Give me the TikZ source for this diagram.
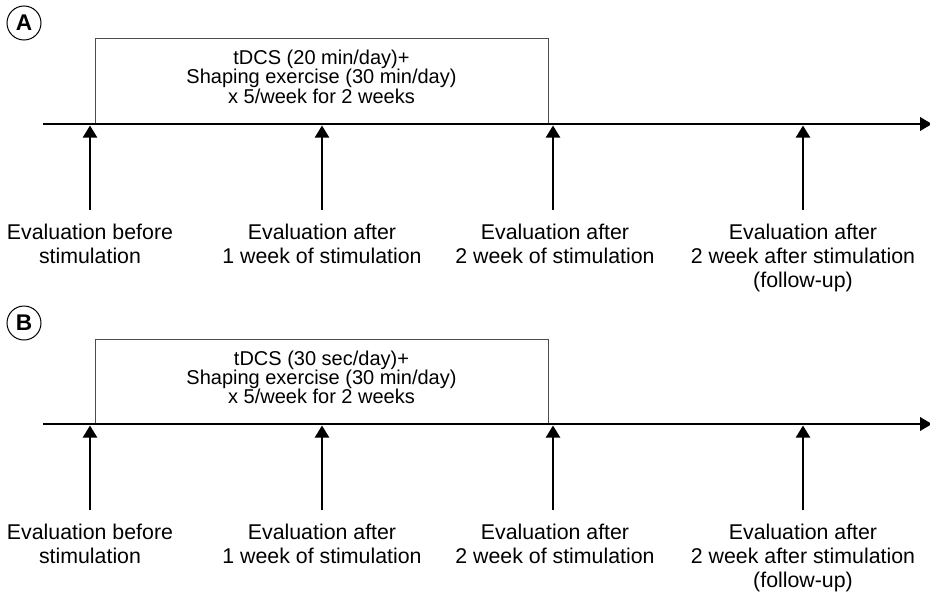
\documentclass[tikz,border=0pt]{standalone}
\usepackage{fontspec}
\setmainfont{Liberation Sans}
\usetikzlibrary{arrows.meta}
\begin{document}
\begin{tikzpicture}[x=0.75pt,y=-0.75pt,
  panellabel/.style={draw,circle,line width=0.75pt,minimum size=25.5pt,inner sep=0pt,
    font=\bfseries\fontsize{17pt}{17pt}\selectfont},
  dosebox/.style={draw=black!70,line width=0.75pt,minimum width=339.75pt,minimum height=63.75pt,inner sep=0pt},
  dosetext/.style={align=center,inner sep=0pt,font=\fontsize{15pt}{14.25pt}\selectfont},
  evlabel/.style={align=center,inner sep=0pt,font=\fontsize{16pt}{18pt}\selectfont},
  timeline/.style={line width=2pt,-{Triangle[width=10pt,length=9pt]}},
  evarrow/.style={line width=1.6pt,-{Triangle[width=10.5pt,length=9pt]}}
]
\useasboundingbox (0,0) rectangle (930,592);
\foreach \p/\dy/\lab/\dose in {a/0/A/20 min, b/300/B/30 sec}{
  \node[panellabel] (\p-lab) at (24,{23+\dy}) {\lab};
  \node[dosebox] (\p-box) at (321.5,{81.5+\dy}) {};
  \node[dosetext,anchor=base] (\p-txt) at (321.5,{103+\dy})
    {tDCS (\dose/day)+\\Shaping exercise (30 min/day)\\x 5/week for 2 weeks};
  \coordinate (\p-s) at (43,{124+\dy});
  \coordinate (\p-e) at (932,{124+\dy});
  \draw[timeline] (\p-s) -- (\p-e);
  \foreach \i/\x/\lx/\ly/\txt in {1/90/90/263/{Evaluation before\\stimulation},
                             2/322/322/263/{Evaluation after\\1 week of stimulation},
                             3/553/555/263/{Evaluation after\\2 week of stimulation},
                             4/803/803/287/{Evaluation after\\2 week after stimulation\\(follow-up)}}{
    \coordinate (\p-b\i) at (\x,{210+\dy});
    \coordinate (\p-t\i) at (\x,{125.5+\dy});
    \draw[evarrow] (\p-b\i) -- (\p-t\i);
    \node[evlabel,anchor=base] (\p-l\i) at (\lx,{\ly+\dy}) {\txt};
  }
}
\end{tikzpicture}
\end{document}
